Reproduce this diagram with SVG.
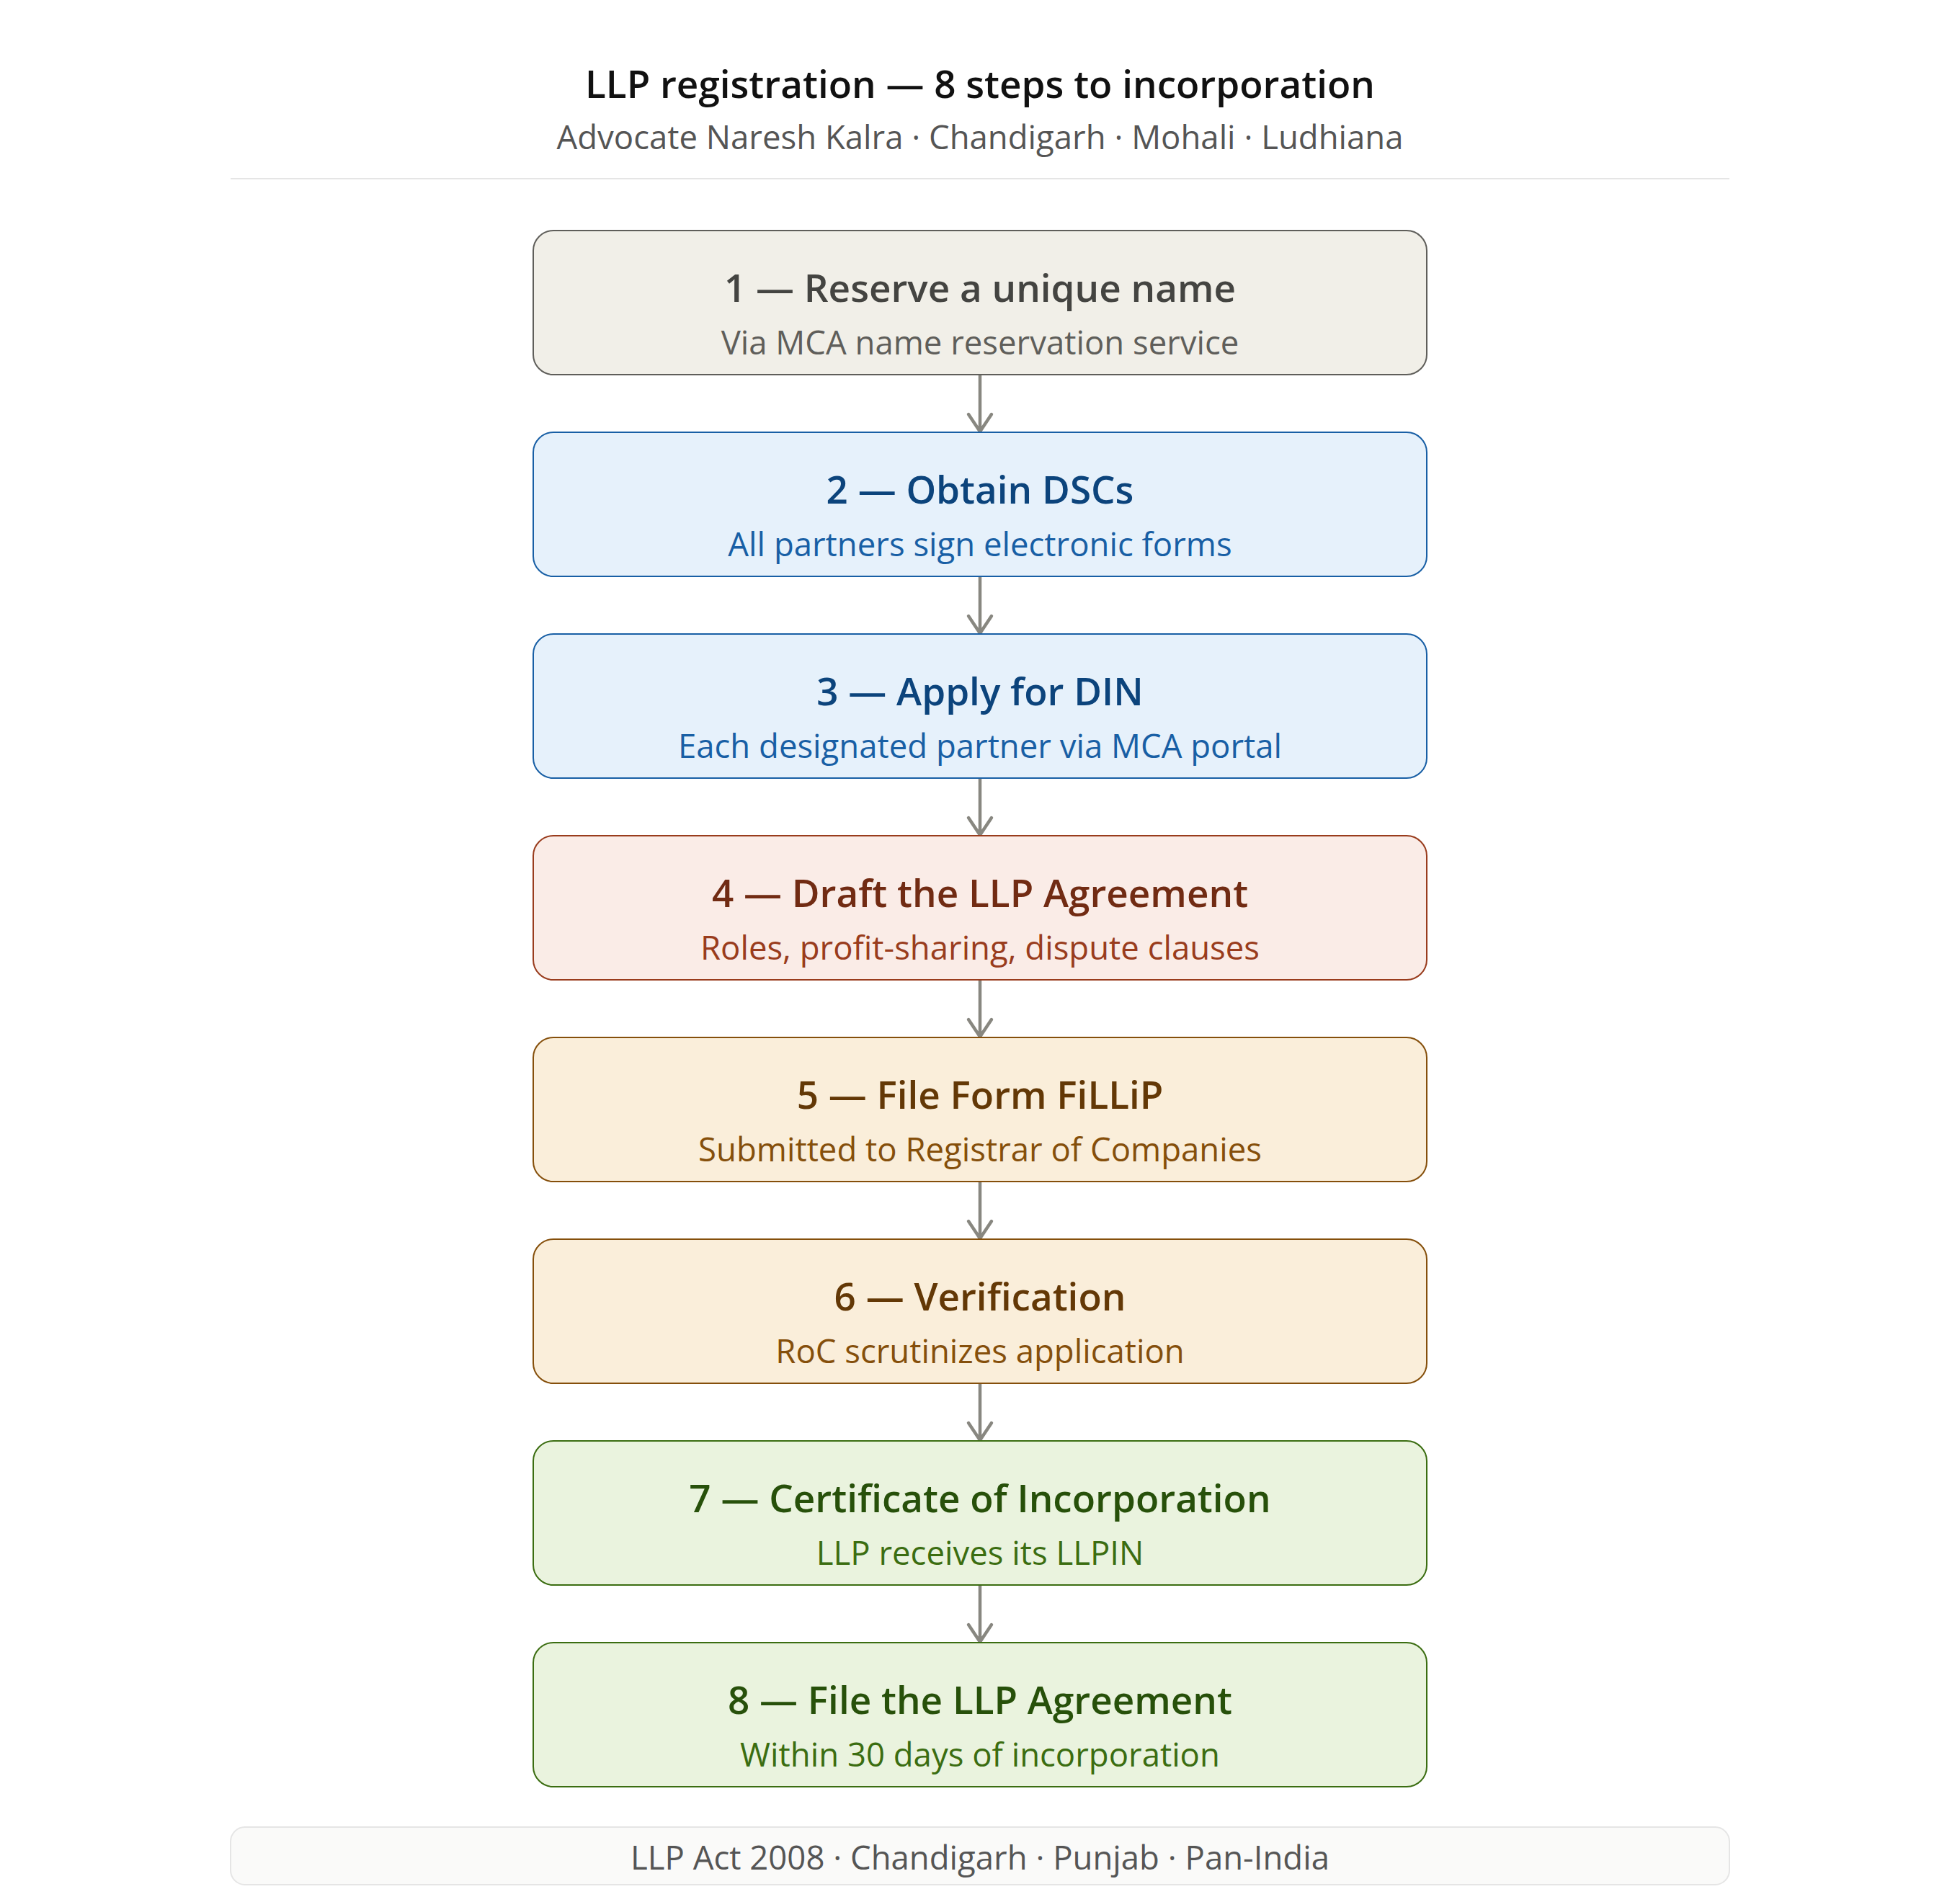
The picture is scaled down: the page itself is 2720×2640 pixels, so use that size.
<svg xmlns="http://www.w3.org/2000/svg" width="2720" height="2640" viewBox="0 0 2720 2640">
<style>
text{font-family:"Open Sans","Noto Sans","DejaVu Sans",sans-serif;text-anchor:middle}
.h{font-size:53px;font-weight:600;fill:#111}
.hs{font-size:45.5px;fill:#555}
.t{font-size:53px;font-weight:600}
.s{font-size:45.5px}
.box{stroke-width:2}
.g .box{fill:#f1efe8;stroke:#5f5e5a}.g .t{fill:#444441}.g .s{fill:#5f5e5a}
.b .box{fill:#e6f1fb;stroke:#185fa5}.b .t{fill:#0c447c}.b .s{fill:#185fa5}
.r .box{fill:#faece7;stroke:#993c1d}.r .t{fill:#712b13}.r .s{fill:#993c1d}
.o .box{fill:#faeeda;stroke:#854f0b}.o .t{fill:#633806}.o .s{fill:#854f0b}
.gr .box{fill:#eaf3de;stroke:#3b6d11}.gr .t{fill:#27500a}.gr .s{fill:#3b6d11}
.c path{fill:none;stroke:#888780;stroke-width:4.5;stroke-linecap:round;stroke-linejoin:round}
.ft{font-size:45.5px;fill:#555}
</style>
<rect width="2720" height="2640" fill="#ffffff"/>
<g id="header">
<text class="h" x="1360" y="136">LLP registration — 8 steps to incorporation</text>
<text class="hs" x="1360" y="207">Advocate Naresh Kalra · Chandigarh · Mohali · Ludhiana</text>
<line x1="320" y1="248" x2="2400" y2="248" stroke="#e5e5e5" stroke-width="2"/>
</g>
<g id="connectors" class="c">
<path d="M1360,520 V598 M1344,575 L1360,599 L1376,575"/>
<path d="M1360,800 V878 M1344,855 L1360,879 L1376,855"/>
<path d="M1360,1080 V1158 M1344,1135 L1360,1159 L1376,1135"/>
<path d="M1360,1360 V1438 M1344,1415 L1360,1439 L1376,1415"/>
<path d="M1360,1640 V1718 M1344,1695 L1360,1719 L1376,1695"/>
<path d="M1360,1920 V1998 M1344,1975 L1360,1999 L1376,1975"/>
<path d="M1360,2200 V2278 M1344,2255 L1360,2279 L1376,2255"/>
</g>
<g id="step1" class="g"><rect class="box" x="740" y="320" width="1240" height="200" rx="28"/><text class="t" x="1360" y="419">1 — Reserve a unique name</text><text class="s" x="1360" y="492">Via MCA name reservation service</text></g>
<g id="step2" class="b"><rect class="box" x="740" y="600" width="1240" height="200" rx="28"/><text class="t" x="1360" y="699">2 — Obtain DSCs</text><text class="s" x="1360" y="772">All partners sign electronic forms</text></g>
<g id="step3" class="b"><rect class="box" x="740" y="880" width="1240" height="200" rx="28"/><text class="t" x="1360" y="979">3 — Apply for DIN</text><text class="s" x="1360" y="1052">Each designated partner via MCA portal</text></g>
<g id="step4" class="r"><rect class="box" x="740" y="1160" width="1240" height="200" rx="28"/><text class="t" x="1360" y="1259">4 — Draft the LLP Agreement</text><text class="s" x="1360" y="1332">Roles, profit-sharing, dispute clauses</text></g>
<g id="step5" class="o"><rect class="box" x="740" y="1440" width="1240" height="200" rx="28"/><text class="t" x="1360" y="1539">5 — File Form FiLLiP</text><text class="s" x="1360" y="1612">Submitted to Registrar of Companies</text></g>
<g id="step6" class="o"><rect class="box" x="740" y="1720" width="1240" height="200" rx="28"/><text class="t" x="1360" y="1819">6 — Verification</text><text class="s" x="1360" y="1892">RoC scrutinizes application</text></g>
<g id="step7" class="gr"><rect class="box" x="740" y="2000" width="1240" height="200" rx="28"/><text class="t" x="1360" y="2099">7 — Certificate of Incorporation</text><text class="s" x="1360" y="2172">LLP receives its LLPIN</text></g>
<g id="step8" class="gr"><rect class="box" x="740" y="2280" width="1240" height="200" rx="28"/><text class="t" x="1360" y="2379">8 — File the LLP Agreement</text><text class="s" x="1360" y="2452">Within 30 days of incorporation</text></g>
<g id="footer"><rect x="320" y="2536" width="2080" height="80" rx="20" fill="#fafaf9" stroke="#e5e5e5" stroke-width="2"/><text class="ft" x="1360" y="2595">LLP Act 2008 · Chandigarh · Punjab · Pan-India</text></g>
</svg>
